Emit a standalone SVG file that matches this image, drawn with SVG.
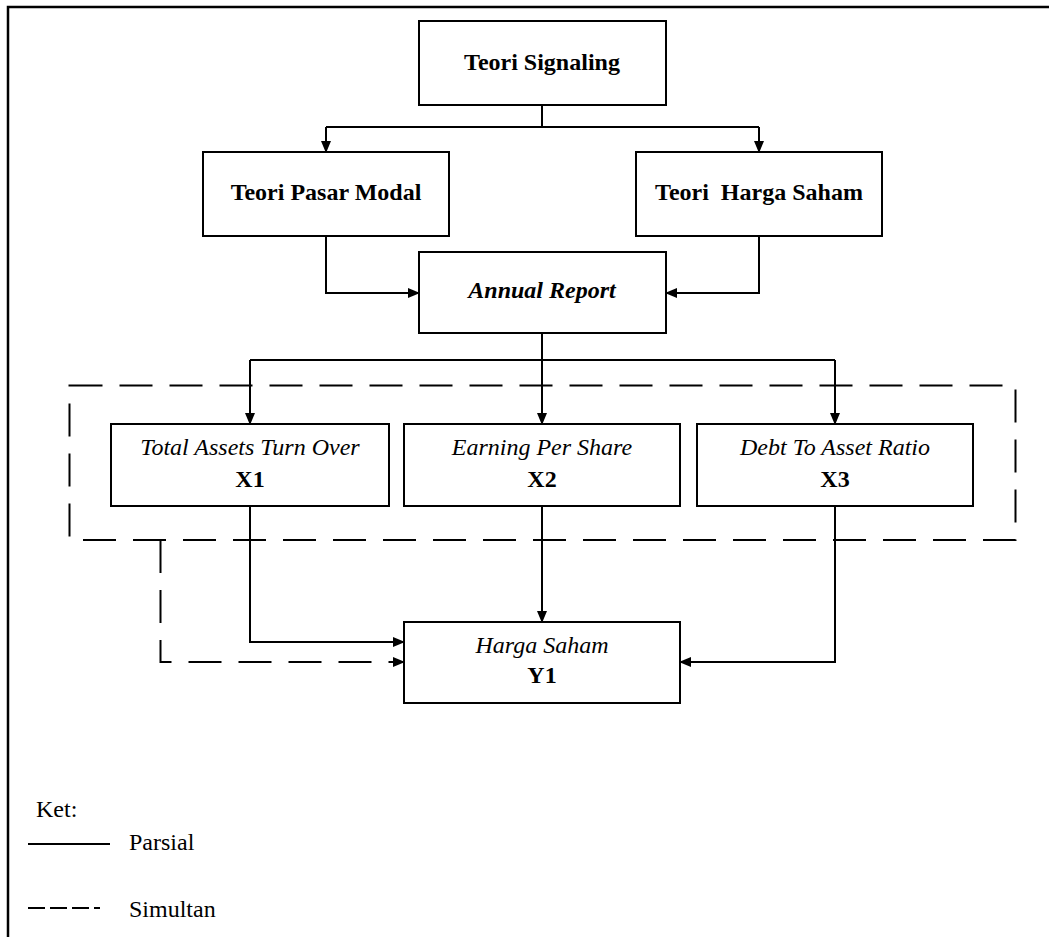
<svg xmlns="http://www.w3.org/2000/svg" width="1049" height="937" viewBox="0 0 1049 937">
<style>
.box{fill:#fff;stroke:#000;stroke-width:2}
text{font-family:'Liberation Serif','DejaVu Serif',serif;font-size:24px;fill:#000}
.t{text-anchor:middle;white-space:pre}
.b{font-weight:bold}
.i{font-style:italic}
.ln{fill:none;stroke:#000;stroke-width:2}
.ds{fill:none;stroke:#000;stroke-width:2;stroke-dasharray:33 17}
</style>
<defs>
<marker id="ah" markerUnits="userSpaceOnUse" markerWidth="12" markerHeight="10" refX="11" refY="5" orient="auto">
<path d="M0,0 L12,5 L0,10 z" fill="#000"/>
</marker>
</defs>
<rect width="1049" height="937" fill="#fff"/>
<path d="M8,937 V7 H1049" fill="none" stroke="#000" stroke-width="2.5"/>

<g id="connectors">
<path class="ln" d="M542,105 V127 M326,127 H759" />
<path class="ln" d="M326,127 V152" marker-end="url(#ah)"/>
<path class="ln" d="M759,127 V152" marker-end="url(#ah)"/>
<path class="ln" d="M326,236 V293 H419" marker-end="url(#ah)"/>
<path class="ln" d="M759,236 V293 H666" marker-end="url(#ah)"/>
<path class="ln" d="M542,333 V360 M250,360 H835"/>
<path class="ln" d="M250,360 V424" marker-end="url(#ah)"/>
<path class="ln" d="M542,360 V424" marker-end="url(#ah)"/>
<path class="ln" d="M835,360 V424" marker-end="url(#ah)"/>
<path class="ln" d="M250,506 V642 H404" marker-end="url(#ah)"/>
<path class="ln" d="M542,506 V622" marker-end="url(#ah)"/>
<path class="ln" d="M835,506 V662 H680" marker-end="url(#ah)"/>
<path class="ds" d="M160.5,540 V662 H404" marker-end="url(#ah)"/>
<rect class="ds" x="69.5" y="385.5" width="946" height="154.5"/>
</g>

<g id="teori-signaling">
<rect class="box" x="419" y="21" width="247" height="84"/>
<text class="t b" x="542" y="70">Teori Signaling</text>
</g>
<g id="teori-pasar-modal">
<rect class="box" x="203" y="152" width="246" height="84"/>
<text class="t b" x="326" y="200">Teori Pasar Modal</text>
</g>
<g id="teori-harga-saham">
<rect class="box" x="636" y="152" width="246" height="84"/>
<text class="t b" x="759" y="200">Teori  Harga Saham</text>
</g>
<g id="annual-report">
<rect class="box" x="419" y="252" width="247" height="81"/>
<text class="t b i" x="542" y="298">Annual Report</text>
</g>
<g id="x1">
<rect class="box" x="111" y="424" width="278" height="82"/>
<text class="t i" x="250" y="455">Total Assets Turn Over</text>
<text class="t b" x="250" y="487">X1</text>
</g>
<g id="x2">
<rect class="box" x="404" y="424" width="276" height="82"/>
<text class="t i" x="542" y="455">Earning Per Share</text>
<text class="t b" x="542" y="487">X2</text>
</g>
<g id="x3">
<rect class="box" x="697" y="424" width="276" height="82"/>
<text class="t i" x="835" y="455">Debt To Asset Ratio</text>
<text class="t b" x="835" y="487">X3</text>
</g>
<g id="y1">
<rect class="box" x="404" y="622" width="276" height="81"/>
<text class="t i" x="542" y="653">Harga Saham</text>
<text class="t b" x="542" y="683">Y1</text>
</g>

<g id="legend">
<text x="36" y="817">Ket:</text>
<path class="ln" d="M28,844 H110"/>
<text x="129" y="850">Parsial</text>
<path d="M28,908 H100" fill="none" stroke="#000" stroke-width="2" stroke-dasharray="17 5"/>
<text x="129" y="917">Simultan</text>
</g>
</svg>
